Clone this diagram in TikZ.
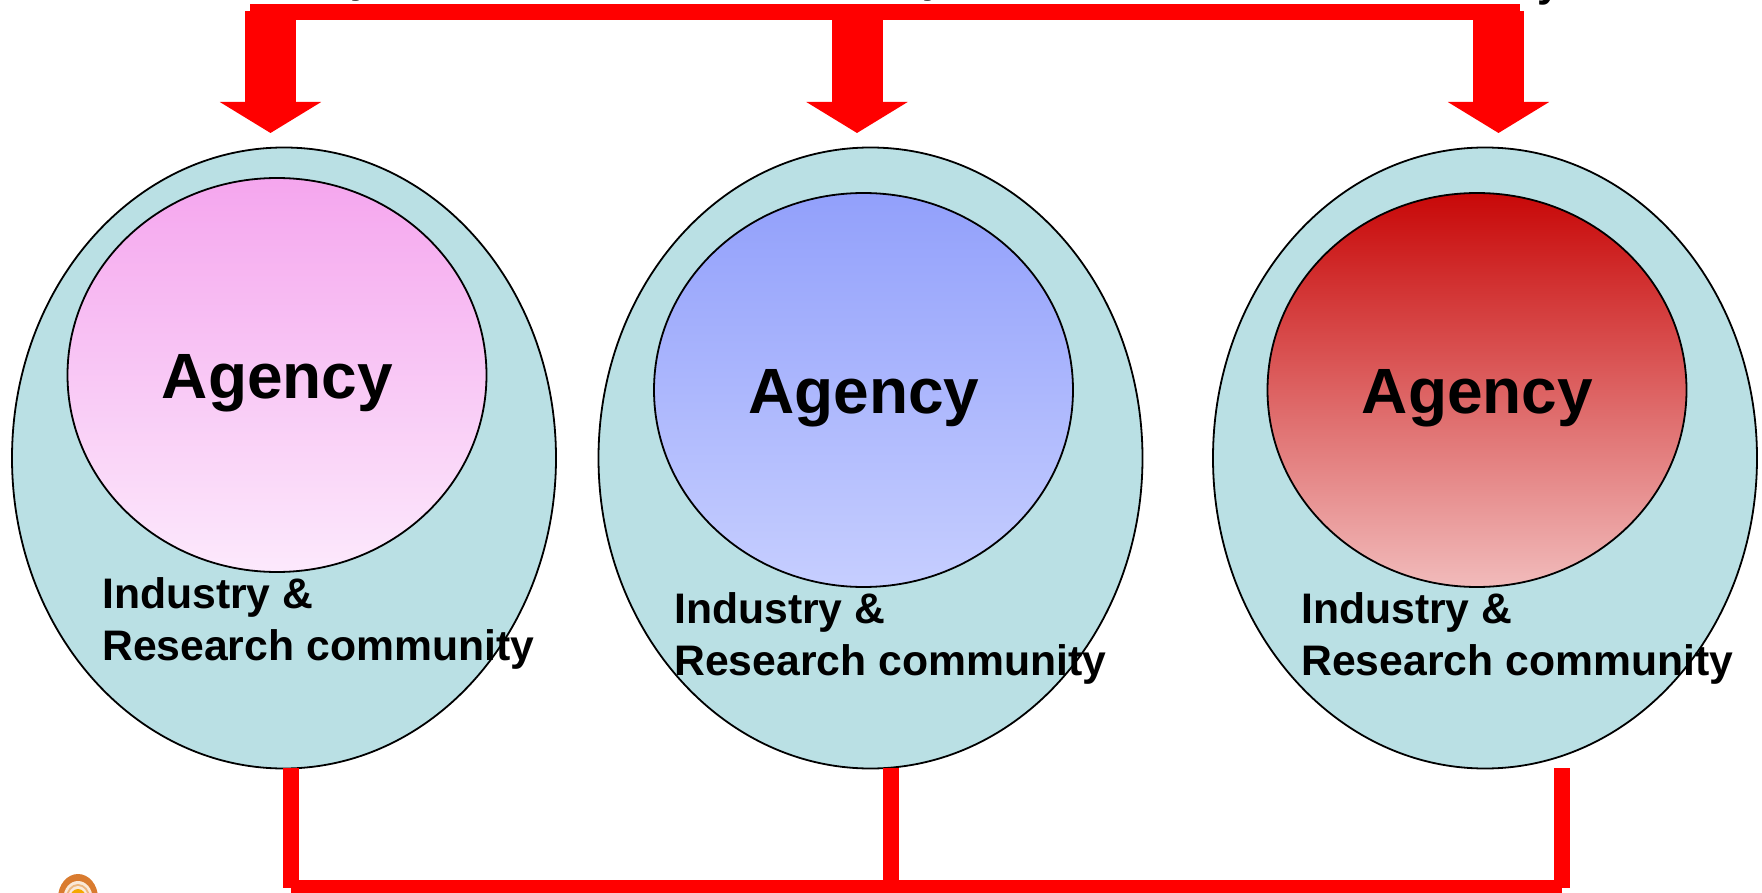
\documentclass[tikz,border=0pt]{standalone}
\usepackage{fontspec}
\setmainfont{Liberation Sans}
\usetikzlibrary{shapes.geometric,arrows.meta}
\definecolor{paleteal}{HTML}{BAE0E4}
\definecolor{pureRed}{HTML}{FF0000}
\definecolor{pink1}{HTML}{F5A6EE}
\definecolor{pink2}{HTML}{FCE9FC}
\definecolor{blue1}{HTML}{92A0FB}
\definecolor{blue2}{HTML}{C6CEFF}
\definecolor{red1}{HTML}{C80808}
\definecolor{red2}{HTML}{F1BBBB}
\definecolor{red3}{HTML}{E07C7C}
\definecolor{logoA}{HTML}{D97B2F}
\definecolor{logoB}{HTML}{EDB67E}
\definecolor{logoC}{HTML}{F5A800}
\tikzset{
  x=1pt,y=-1pt,
  outerblob/.style={ellipse,draw=black,line width=1.8pt,fill=paleteal,inner sep=0,outer sep=0,minimum width=544pt,minimum height=621pt},
  innerblob/.style={ellipse,draw=black,line width=1.8pt,inner sep=0,outer sep=0,minimum width=419pt,minimum height=394pt},
  pinkfill/.style={top color=pink1,bottom color=pink2},
  bluefill/.style={top color=blue1,bottom color=blue2},
  redfill/.style={top color=red1,middle color=red3,bottom color=red2},
  agencytext/.style={anchor=base,inner sep=0,font=\bfseries\fontsize{64}{64}\selectfont},
  indtext/.style={anchor=base west,inner sep=0,align=left,font=\bfseries\fontsize{42.7}{52}\selectfont},
  cuttext/.style={anchor=base,inner sep=0,font=\bfseries\fontsize{42}{42}\selectfont},
  pipe/.style={draw=pureRed,line width=16pt},
  bigarrow/.style={draw=pureRed,fill=pureRed,line width=51pt,-{Triangle[length=31pt,width=100pt]}},
}
\begin{document}
\begin{tikzpicture}
\useasboundingbox (0,0) rectangle (1762,893);
\clip (0,0) rectangle (1762,893);
\fill[white] (0,0) rectangle (1762,893);

% clipped text tails at the top edge
\node[cuttext] (cutA) at (362,-7) {y};
\node[cuttext] (cutB) at (934,-7) {y};
\node[cuttext] (cutC) at (1549,-3) {y};

% blobs
\node[outerblob] (outer1) at (284,458) {};
\node[outerblob] (outer2) at (870.5,458) {};
\node[outerblob] (outer3) at (1485,458) {};
\node[innerblob,pinkfill] (inner1) at (277,375) {};
\node[innerblob,bluefill] (inner2) at (863.5,390) {};
\node[innerblob,redfill] (inner3) at (1477,390) {};

\node[agencytext] (ag1) at (277.5,398) {Agency};
\node[agencytext] (ag2) at (864,413) {Agency};
\node[agencytext] (ag3) at (1477.5,413) {Agency};

\node[indtext] (ind1) at (102,660) {Industry \&\\Research community};
\node[indtext] (ind2) at (674,675) {Industry \&\\Research community};
\node[indtext] (ind3) at (1301,675) {Industry \&\\Research community};

% top bar and arrows
\coordinate (barL) at (250,12);
\coordinate (barR) at (1520,12);
\coordinate (a1s) at (270.5,11);
\coordinate (a2s) at (857,11);
\coordinate (a3s) at (1498.5,11);
\coordinate (a1e) at (270.5,133);
\coordinate (a2e) at (857,133);
\coordinate (a3e) at (1498.5,133);
\draw[pipe] (barL) -- (barR);
\draw[bigarrow] (a1s) -- (a1e);
\draw[bigarrow] (a2s) -- (a2e);
\draw[bigarrow] (a3s) -- (a3e);

% bottom bar
\coordinate (p1t) at (291,768);
\coordinate (p1b) at (291,888);
\coordinate (p2t) at (891,768);
\coordinate (p2b) at (891,888);
\coordinate (p3t) at (1561.5,768);
\coordinate (p3b) at (1561.5,888);
\draw[pipe] (p1t) -- (p1b);
\draw[pipe] (p2t) -- (p2b);
\draw[pipe] (p3t) -- (p3b);
\draw[pipe] (p1b) -- (p3b);

% logo, cut by the lower edge
\fill[logoA] (78,898) ellipse [x radius=20,y radius=24];
\fill[white!70!logoB] (78,898) ellipse [x radius=14.5,y radius=17];
\fill[logoB] (78,898) ellipse [x radius=12,y radius=14];
\fill[white!70!logoB] (78,898) ellipse [x radius=10,y radius=12];
\fill[logoC] (78,898) ellipse [x radius=8,y radius=9];
\end{tikzpicture}
\end{document}
